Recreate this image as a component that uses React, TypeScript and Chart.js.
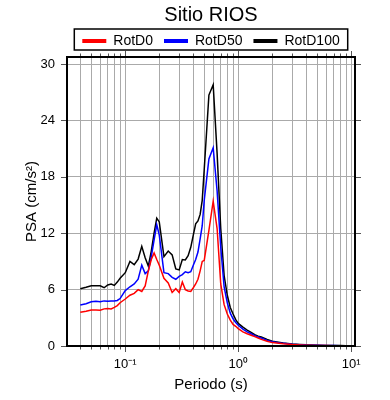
import React, { useEffect, useRef } from 'react';
import { Chart, registerables } from 'chart.js';

Chart.register(...registerables);

const periods = [
  0.04, 0.045, 0.05, 0.055, 0.06, 0.065, 0.07, 0.075, 0.08, 0.085, 0.09,
  0.1, 0.11, 0.12, 0.13, 0.14, 0.15, 0.16, 0.17, 0.18, 0.19, 0.2,
  0.22, 0.24, 0.26, 0.28, 0.3, 0.32, 0.34, 0.36, 0.38, 0.4, 0.42, 0.44, 0.46, 0.48, 0.5,
  0.55, 0.6, 0.65, 0.7, 0.75, 0.8, 0.85, 0.9, 0.95, 1.0,
  1.1, 1.2, 1.3, 1.4, 1.5, 1.6, 1.8, 2.0, 2.5, 3, 3.5, 4, 5, 6, 7, 8, 9, 10,
];

const rotD0 = [
  3.58, 3.7, 3.83, 3.82, 3.8, 3.95, 4.0, 3.94, 4.1, 4.3, 4.6,
  5.0, 5.4, 5.6, 6.0, 5.8, 6.4, 8.0, 9.2, 9.9, 9.2, 8.6,
  7.2, 6.7, 5.7, 6.1, 5.7, 6.8, 6.0, 5.85, 5.8, 6.2, 6.6, 7.1, 8.0, 9.0, 9.1,
  12.3, 15.4, 12.5, 6.6, 4.4, 3.4, 2.75, 2.3, 2.1, 1.85,
  1.5, 1.3, 1.15, 1.0, 0.85, 0.7, 0.5, 0.36, 0.23, 0.15, 0.11, 0.08, 0.055, 0.04, 0.03, 0.025, 0.02, 0.02,
];

const rotD50 = [
  4.36, 4.5, 4.7, 4.75, 4.7, 4.8, 4.75, 4.8, 4.8, 4.85, 5.05,
  5.9, 6.3, 6.6, 7.1, 8.6, 7.7, 8.0, 9.5, 11.3, 12.9, 11.8,
  7.8, 7.7, 7.3, 7.1, 7.4, 7.6, 7.9, 7.8, 7.9, 8.6, 9.2, 10.0, 11.4, 12.8, 15.5,
  19.9, 21.1, 16.5, 10.5, 6.3, 4.6, 3.5, 2.9, 2.5, 2.2,
  1.8, 1.5, 1.3, 1.1, 0.95, 0.85, 0.6, 0.45, 0.28, 0.19, 0.14, 0.1, 0.07, 0.05, 0.04, 0.035, 0.03, 0.025,
];

const rotD100 = [
  6.1, 6.25, 6.4, 6.4, 6.4, 6.2, 6.5, 6.6, 6.45, 6.8, 7.2,
  7.8, 9.0, 8.65, 9.25, 10.6, 9.4, 8.5, 10.1, 12.0, 13.6, 13.2,
  9.5, 10.1, 9.7, 8.2, 8.1, 9.2, 9.15, 9.6, 10.5, 11.8, 13.0, 13.3, 14.0, 15.5, 18.8,
  26.7, 27.8, 20.5, 12.5, 7.5, 5.4, 4.1, 3.4, 2.8, 2.4,
  2.0, 1.7, 1.45, 1.2, 1.05, 0.95, 0.7, 0.5, 0.32, 0.22, 0.16, 0.12, 0.08, 0.06, 0.05, 0.04, 0.035, 0.03,
];

const seriesLabels = ['RotD0', 'RotD50', 'RotD100'];
const seriesColors = ['#ff0000', '#0000ff', '#000000'];
const yTickValues = [0, 6, 12, 18, 24, 30];
const decadeExponents = [-2, -1, 0, 1];
const titleText = 'Sitio RIOS';
const xTitleText = 'Periodo (s)';
const yTitleText = 'PSA (cm/s²)';
const xMin = 0.0305;
const xMax = 10.8;
const yMin = 0;
const yMax = 30.75;

const FONT = '"Liberation Sans", Arial, Helvetica, sans-serif';

const SUP: Record<string, string> = {
  '-': '⁻', '0': '⁰', '1': '¹', '2': '²', '3': '³', '4': '⁴',
  '5': '⁵', '6': '⁶', '7': '⁷', '8': '⁸', '9': '⁹',
};

function isDecade(v: number) {
  const l = Math.log10(v);
  return Math.abs(l - Math.round(l)) < 1e-9;
}

function decadeLabel(v: number) {
  const e = String(Math.round(Math.log10(v)));
  return '10' + e.split('').map((c) => SUP[c] || c).join('');
}

const xTickValues: number[] = [];
decadeExponents.forEach((e) => {
  for (let m = 1; m <= 9; m++) {
    const v = parseFloat((m * Math.pow(10, e)).toPrecision(6));
    if (v >= xMin && v <= xMax) xTickValues.push(v);
  }
});

const framePlugin = {
  id: 'frameAndLegend',
  afterDraw(chart: any) {
    const { ctx, chartArea: a, scales } = chart;
    ctx.save();
    // tick marks on all four sides
    ctx.strokeStyle = '#555';
    ctx.lineWidth = 1;
    const xs = scales.x;
    xs.ticks.forEach((t: any) => {
      const px = Math.round(xs.getPixelForValue(t.value)) + 0.5;
      const len = isDecade(t.value) ? 6 : 3.5;
      ctx.beginPath();
      ctx.moveTo(px, a.bottom);
      ctx.lineTo(px, a.bottom + len);
      ctx.moveTo(px, a.top);
      ctx.lineTo(px, a.top - len);
      ctx.stroke();
    });
    const ys = scales.y;
    ys.ticks.forEach((t: any) => {
      const py = Math.round(ys.getPixelForValue(t.value)) + 0.5;
      ctx.beginPath();
      ctx.moveTo(a.left, py);
      ctx.lineTo(a.left - 6, py);
      ctx.moveTo(a.right, py);
      ctx.lineTo(a.right + 6, py);
      ctx.stroke();
    });
    // frame
    ctx.strokeStyle = '#000';
    ctx.lineWidth = 2;
    ctx.strokeRect(a.left, a.top, a.right - a.left, a.bottom - a.top);

    const cx = (a.left + a.right) / 2;
    // title
    ctx.fillStyle = '#000';
    ctx.font = `20px ${FONT}`;
    ctx.textAlign = 'center';
    ctx.textBaseline = 'alphabetic';
    ctx.fillText(titleText, cx, 21);

    // legend
    ctx.font = `14px ${FONT}`;
    const ds = chart.data.datasets;
    const lineLen = 24, gapText = 7, gapItem = 11, pad = 8;
    const widths = ds.map((d: any) => ctx.measureText(d.label).width);
    const content = widths.reduce((s: number, w: number) => s + lineLen + gapText + w, 0) + gapItem * (ds.length - 1);
    const boxW = content + pad * 2;
    const boxLeft = cx - boxW / 2;
    const boxTop = 29, boxH = 21;
    ctx.lineWidth = 1.5;
    ctx.strokeStyle = '#000';
    ctx.strokeRect(boxLeft, boxTop, boxW, boxH);
    let x = boxLeft + pad;
    ds.forEach((d: any, i: number) => {
      ctx.strokeStyle = d.borderColor;
      ctx.lineWidth = 4;
      ctx.lineCap = 'butt';
      ctx.beginPath();
      ctx.moveTo(x, 41);
      ctx.lineTo(x + lineLen, 41);
      ctx.stroke();
      x += lineLen + gapText;
      ctx.fillStyle = '#000';
      ctx.textAlign = 'left';
      ctx.fillText(d.label, x, 45);
      x += widths[i] + gapItem;
    });
    ctx.restore();
  },
};

export default function App() {
  const ref = useRef<HTMLCanvasElement>(null);
  useEffect(() => {
    Chart.defaults.font.family = FONT;
    Chart.defaults.color = '#000';
    const series = [rotD0, rotD50, rotD100];
    const chart = new Chart(ref.current as HTMLCanvasElement, {
      type: 'line',
      data: {
        datasets: series.map((vals, i) => ({
          label: seriesLabels[i],
          data: periods.map((p, j) => ({ x: p, y: vals[j] })),
          borderColor: seriesColors[i],
          backgroundColor: seriesColors[i],
          borderWidth: 1.5,
          pointRadius: 0,
          tension: 0,
          fill: false,
        })),
      },
      options: {
        animation: false,
        responsive: false,
        events: [],
        layout: { padding: { left: 0, right: 35, top: 57, bottom: 0 } },
        plugins: {
          legend: { display: false },
          title: { display: false },
          tooltip: { enabled: false },
        },
        scales: {
          x: {
            type: 'logarithmic',
            position: 'bottom',
            min: xMin,
            max: xMax,
            afterBuildTicks: (s: any) => {
              s.ticks = xTickValues.map((v) => ({ value: v, major: isDecade(v) }));
            },
            afterFit: (s: any) => {
              s.height = 54;
            },
            grid: { color: '#aaaaaa', lineWidth: 1, drawTicks: false },
            border: { display: false },
            ticks: {
              autoSkip: false,
              maxRotation: 0,
              minRotation: 0,
              padding: 11,
              color: '#000',
              font: { size: 13, family: FONT },
              callback: (v: any) => (isDecade(Number(v)) ? decadeLabel(Number(v)) : ''),
            },
            title: {
              display: true,
              text: xTitleText,
              color: '#000',
              font: { size: 15, family: FONT },
              padding: { top: 0, bottom: 6 },
            },
          },
          y: {
            type: 'linear',
            position: 'left',
            min: yMin,
            max: yMax,
            afterBuildTicks: (s: any) => {
              s.ticks = yTickValues.map((v) => ({ value: v }));
            },
            afterFit: (s: any) => {
              s.width = 67;
            },
            grid: { color: '#aaaaaa', lineWidth: 1, drawTicks: false },
            border: { display: false },
            ticks: {
              padding: 12,
              color: '#000',
              font: { size: 13, family: FONT },
              callback: (v: any) => String(v),
            },
            title: {
              display: true,
              text: yTitleText,
              color: '#000',
              font: { size: 15, family: FONT },
              padding: { top: 23, bottom: 0 },
            },
          },
        },
      },
      plugins: [framePlugin],
    } as any);
    return () => chart.destroy();
  }, []);
  return (
    <div style={{ position: 'fixed', left: 0, top: 0, width: 390, height: 400, background: '#fff' }}>
      <canvas ref={ref} width={390} height={400} style={{ display: 'block', width: 390, height: 400 }} />
    </div>
  );
}
